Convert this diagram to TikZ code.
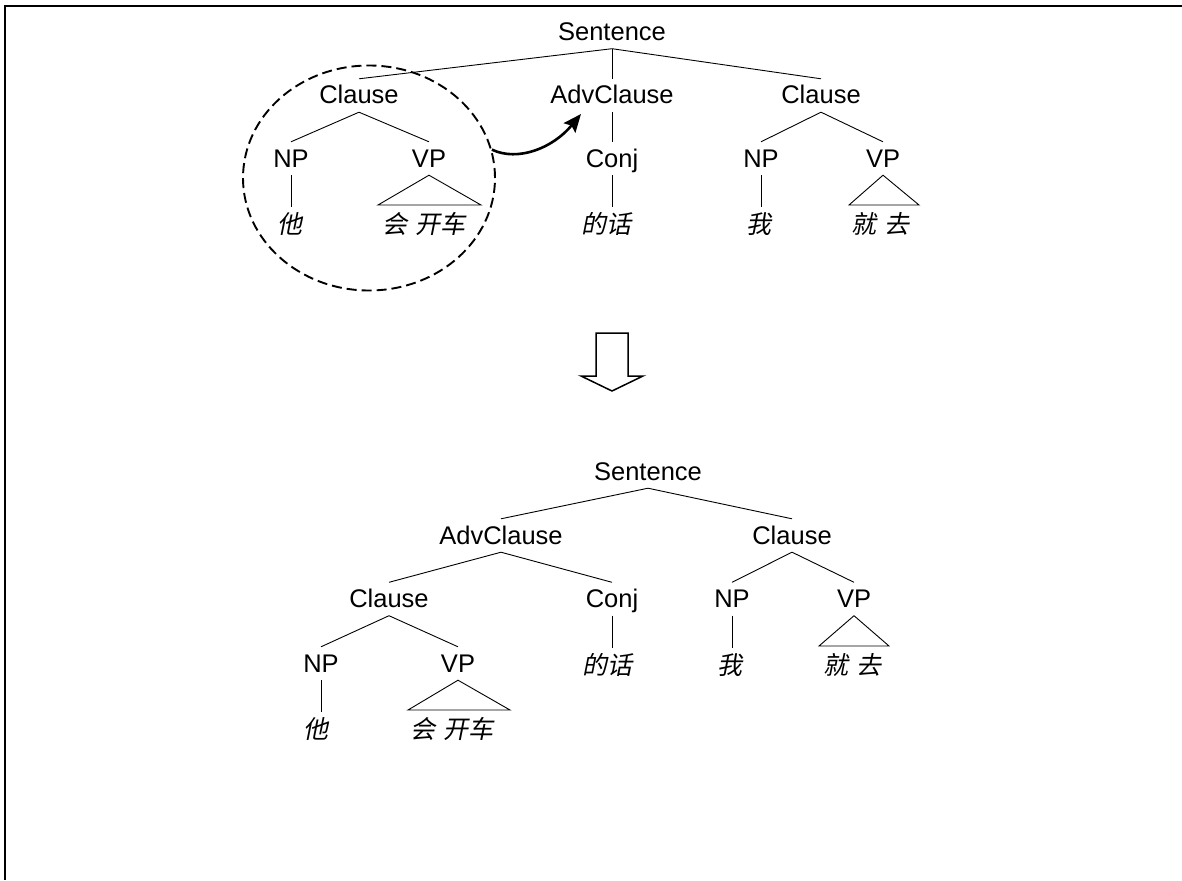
\documentclass[tikz,border=0pt]{standalone}
\usepackage{fontspec}
\setmainfont{Liberation Sans}
\newfontfamily\cjk[FakeSlant=0.2]{Noto Sans CJK SC}
\usetikzlibrary{shapes.geometric,arrows.meta,calc}
\newcommand{\wgap}{\hspace{8pt}}

\begin{document}
\begin{tikzpicture}[x=1pt,y=-1pt,
  lab/.style={inner sep=0pt, text height=25pt, text depth=8pt,
              font=\fontsize{25.5}{30}\selectfont},
  leaf/.style={inner sep=0pt, text height=26pt, text depth=6pt,
               font=\cjk\fontsize{25}{29}\selectfont},
  edge/.style={line width=0.9pt},
  tri/.style={line width=0.9pt, line join=miter},
  frame/.style={line width=2.2pt},
  group/.style={draw, ellipse, inner sep=0pt, line width=1.9pt,
                dash pattern=on 10pt off 5pt},
  moveto/.style={line width=2.6pt, -{Stealth[length=18pt,width=15pt,inset=3pt]}},
  blockarrow/.style={line width=1.5pt, line join=miter, fill=white}
]
\useasboundingbox (0,0) rectangle (1182,880);

% frame edges
\draw[frame] (4,6) -- (1182,6);
\draw[frame] (5,5) -- (5,880);

% ---------- tree before the move ----------
\node[lab] (s1)    at (612,32)    {Sentence};
\node[lab] (c1l)   at (359,95.5)  {Clause};
\node[lab] (a1)    at (612,95.5)  {AdvClause};
\node[lab] (c1r)   at (821,95.5)  {Clause};
\node[lab] (np1l)  at (291,158.5) {NP};
\node[lab] (vp1l)  at (429,158.5) {VP};
\node[lab] (cj1)   at (612,158.5) {Conj};
\node[lab] (np1r)  at (761,158.5) {NP};
\node[lab] (vp1r)  at (883,158.5) {VP};
\node[leaf] (w1a)  at (290,223)   {他};
\node[leaf] (w1b)  at (424,223)   {会\wgap 开车};
\node[leaf] (w1c)  at (606,223)   {的话};
\node[leaf] (w1d)  at (759,223)   {我};
\node[leaf] (w1e)  at (880,223)   {就\wgap 去};

\draw[edge] (s1.south) -- (c1l.north);
\draw[edge] (s1.south) -- (a1.north);
\draw[edge] (s1.south) -- (c1r.north);
\draw[edge] (c1l.south) -- (np1l.north);
\draw[edge] (c1l.south) -- (vp1l.north);
\draw[edge] (a1.south) -- (cj1.north);
\draw[edge] (c1r.south) -- (np1r.north);
\draw[edge] (c1r.south) -- (vp1r.north);
\draw[edge] (np1l.south) -- (np1l.south |- w1a.north);
\draw[edge] (cj1.south) -- (cj1.south |- w1c.north);
\draw[edge] (np1r.south) -- (np1r.south |- w1d.north);

\coordinate (t1a) at (378,205);
\coordinate (t1b) at (481,205);
\coordinate (t1c) at (849,205);
\coordinate (t1d) at (919,205);
\draw[tri] (vp1l.south) -- (t1a) -- (t1b) -- cycle;
\draw[tri] (vp1r.south) -- (t1c) -- (t1d) -- cycle;

% the clause that moves, and where it goes
\node[group, minimum width=252pt, minimum height=225pt] (grp) at (369,178) {};
\coordinate (tip) at (581,114);
\draw[moveto] (grp.13) .. controls (518,162) and (553,148) .. (tip);

% ---------- transformation arrow ----------
\draw[blockarrow] (596,333) -- (628,333) -- (628,376) -- (643,376)
  -- (612,391) -- (581,376) -- (596,376) -- cycle;

% ---------- tree after the move ----------
\node[lab] (s2)    at (648,471.5) {Sentence};
\node[lab] (a2)    at (501,535.5) {AdvClause};
\node[lab] (c2r)   at (792,535.5) {Clause};
\node[lab] (c2l)   at (389,599)   {Clause};
\node[lab] (cj2)   at (612,599)   {Conj};
\node[lab] (np2r)  at (732,599)   {NP};
\node[lab] (vp2r)  at (854,599)   {VP};
\node[lab] (np2l)  at (321,663.5) {NP};
\node[lab] (vp2l)  at (458,663.5) {VP};
\node[leaf] (w2c)  at (607,664)   {的话};
\node[leaf] (w2d)  at (730,664)   {我};
\node[leaf] (w2e)  at (852,664)   {就\wgap 去};
\node[leaf] (w2a)  at (316,728)   {他};
\node[leaf] (w2b)  at (452,728)   {会\wgap 开车};

\draw[edge] (s2.south) -- (a2.north);
\draw[edge] (s2.south) -- (c2r.north);
\draw[edge] (a2.south) -- (c2l.north);
\draw[edge] (a2.south) -- (cj2.north);
\draw[edge] (c2r.south) -- (np2r.north);
\draw[edge] (c2r.south) -- (vp2r.north);
\draw[edge] (c2l.south) -- (np2l.north);
\draw[edge] (c2l.south) -- (vp2l.north);
\draw[edge] (cj2.south) -- (cj2.south |- w2c.north);
\draw[edge] (np2r.south) -- (np2r.south |- w2d.north);
\draw[edge] (np2l.south) -- (np2l.south |- w2a.north);

\coordinate (t2a) at (408,710);
\coordinate (t2b) at (510,710);
\coordinate (t2c) at (819,646);
\coordinate (t2d) at (889,646);
\draw[tri] (vp2l.south) -- (t2a) -- (t2b) -- cycle;
\draw[tri] (vp2r.south) -- (t2c) -- (t2d) -- cycle;
\end{tikzpicture}
\end{document}
